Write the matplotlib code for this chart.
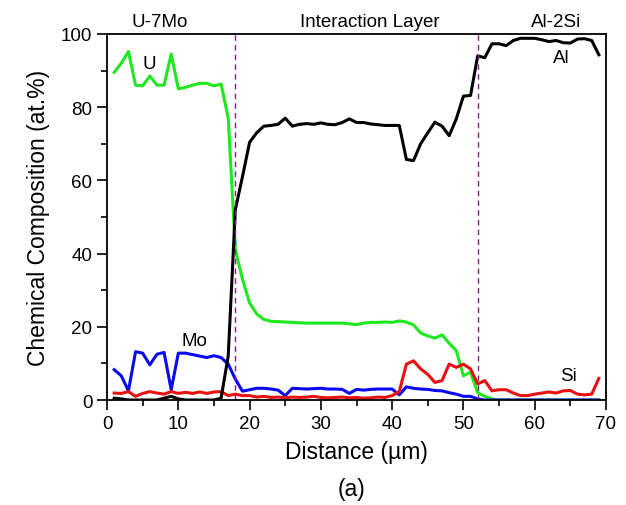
import numpy as np
import matplotlib
matplotlib.use("Agg")
import matplotlib.pyplot as plt
from matplotlib.ticker import MultipleLocator

plt.rcParams['font.family'] = ['Liberation Sans', 'DejaVu Sans']

# Distancia (um), un punto por micra
distance = np.arange(1, 70)

u = [89.5, 92, 95.2, 86, 85.8, 88.5, 86, 86, 94.5, 85,
     85.4, 86, 86.5, 86.5, 85.8, 86.3, 77, 41, 33, 26.5,
     23.5, 22, 21.5, 21.4, 21.3, 21.2, 21.1, 21, 21, 21,
     21, 21, 21, 20.8, 20.6, 21, 21.2, 21.2, 21.3, 21.2,
     21.6, 21.3, 20.5, 18.3, 17.5, 16.9, 17.8, 15.5, 13.5, 6.6,
     7.6, 2, 1, 0.3, 0, 0, 0, 0, 0, 0,
     0, 0, 0, 0, 0, 0, 0, 0, 0]

al = [0.5, 0.3, 0, 0, 0, 0, 0, 0.5, 1, 0.3,
      0, 0, 0, 0, 0, 0.5, 12, 52, 61, 70.4,
      73, 74.8, 75, 75.3, 77, 74.8, 75.3, 75.5, 75.3, 75.7,
      75.3, 75.2, 75.8, 76.8, 75.8, 75.8, 75.4, 75.2, 75, 75,
      75, 65.7, 65.4, 70, 73, 75.9, 74.8, 72.2, 76.8, 83,
      83.2, 94, 93.5, 97.3, 97.3, 96.8, 98.2, 98.8, 98.8, 98.8,
      98.4, 97.9, 98.2, 97.6, 97.5, 98.6, 98.7, 98.2, 94.3]

mo = [8.3, 6.6, 2.5, 13.2, 12.8, 9.6, 12.5, 13, 2.8, 12.8,
      12.8, 12.4, 12, 11.6, 12.1, 11.6, 9.8, 5.7, 2.4, 2.8,
      3.2, 3.2, 3, 2.7, 1.2, 3.2, 3.1, 3, 3.1, 3.2,
      3, 3, 2.9, 1.8, 2.9, 2.7, 2.9, 3, 3, 3,
      1.4, 3.6, 3.2, 3, 2.9, 2.6, 2.5, 2, 1.6, 1,
      1, 0.3, 0, 0, 0, 0, 0, 0, 0, 0,
      0, 0, 0, 0, 0, 0, 0, 0, 0]

si = [1.9, 1.8, 2.3, 1, 1.8, 2.3, 1.9, 1.6, 2.3, 1.8,
      2.1, 1.8, 2.2, 1.8, 2.2, 2.3, 1.2, 1.6, 1.2, 1.2,
      0.8, 1.0, 0.7, 0.8, 0.6, 0.8, 0.7, 0.8, 1.0, 0.7,
      0.6, 0.7, 0.8, 0.6, 0.7, 0.5, 0.6, 0.8, 0.7, 1.2,
      2.3, 9.8, 10.7, 8.5, 7, 4.8, 5.3, 9.8, 8.9, 9.8,
      8.5, 4.4, 5.3, 2.5, 2.8, 2.8, 1.9, 1.2, 1.2, 1.6,
      1.9, 2.2, 1.9, 2.5, 2.6, 1.6, 1.4, 1.6, 5.9]

# Limites de las zonas
boundaries = [18, 52]
zones = ["U-7Mo", "Interaction Layer", "Al-2Si"]
zone_x = [7.4, 36.9, 63]

fig = plt.figure(figsize=(6.26, 5.06), dpi=100)
ax = fig.add_axes([0.171, 0.2075, 0.797, 0.7235])

ax.plot(distance, u, color='#1ee81e', lw=2.2)
ax.plot(distance, mo, color='#0a0af0', lw=2.2)
ax.plot(distance, si, color='#e81010', lw=2.2)
ax.plot(distance, al, color='black', lw=2.2)

for b in boundaries:
    ax.axvline(b, color='#8b1a8b', lw=1, ls=(0, (4, 3)))

ax.set_xlim(0, 70)
ax.set_ylim(0, 100)
ax.xaxis.set_major_locator(MultipleLocator(10))
ax.xaxis.set_minor_locator(MultipleLocator(5))
ax.yaxis.set_major_locator(MultipleLocator(20))
ax.yaxis.set_minor_locator(MultipleLocator(10))
ax.tick_params(which='major', direction='out', length=7, width=1.2, labelsize=13.5)
ax.tick_params(which='minor', direction='out', length=4, width=1.2)
for s in ax.spines.values():
    s.set_linewidth(1.3)

ax.set_xlabel('Distance (µm)', fontsize=16.5, labelpad=6)
ax.set_ylabel('Chemical Composition (at.%)', fontsize=16.5, labelpad=8)

ax.text(5.9, 91.8, 'U', fontsize=13.5, ha='center', va='center')
ax.text(12.3, 16.2, 'Mo', fontsize=13.5, ha='center', va='center')
ax.text(63.8, 93.6, 'Al', fontsize=13.5, ha='center', va='center')
ax.text(64.7, 6.6, 'Si', fontsize=13.5, ha='center', va='center')

for name, zx in zip(zones, zone_x):
    ax.text(zx, 103.3, name, fontsize=13.5, ha='center', va='center', clip_on=False)

fig.text(0.561, 0.032, '(a)', fontsize=16.5, ha='center', va='center')

fig.savefig('out.png', dpi=100)
